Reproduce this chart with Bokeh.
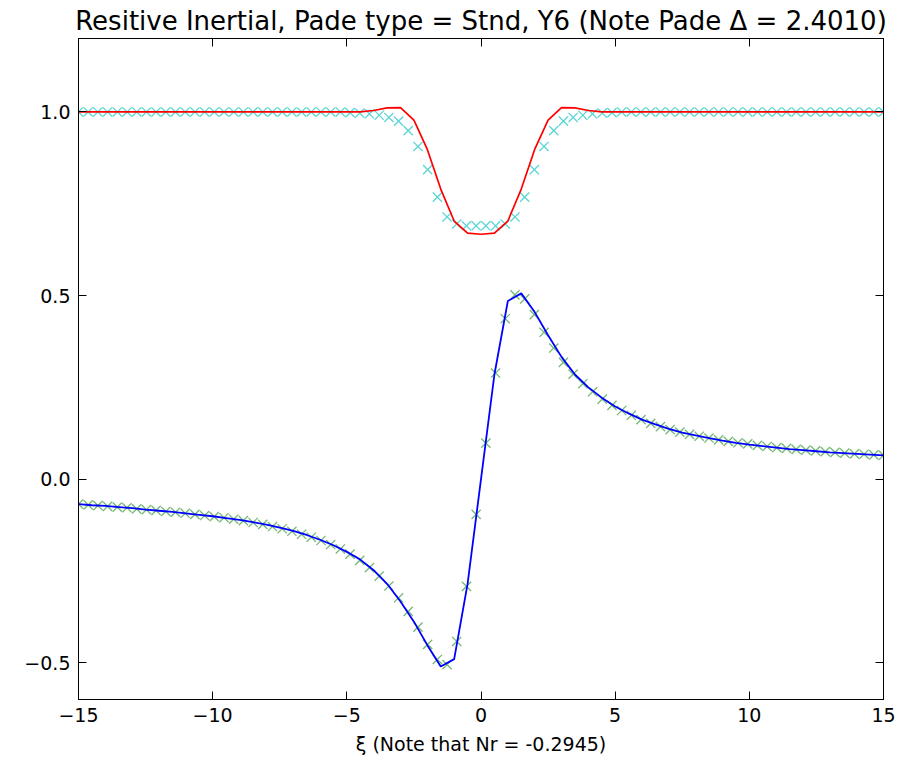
from bokeh.plotting import figure
from bokeh.models import Range1d, LinearAxis, FixedTicker, CustomJSTickFormatter
from bokeh.embed import file_html
from bokeh.resources import INLINE

TITLE = "Resitive Inertial, Pade type = Stnd, Y6 (Note Pade \u0394 = 2.4010)"
XLABEL = "\u03be (Note that Nr = -0.2945)"
X_TICKS = [-15, -10, -5, 0, 5, 10, 15]
Y_TICKS = [-0.5, 0.0, 0.5, 1.0]

# sample positions of the "x" markers
XI_MARK = [-15.0, -14.639, -14.277, -13.916, -13.554, -13.193, -12.831, -12.47, -12.108, -11.747,
           -11.386, -11.024, -10.663, -10.301, -9.94, -9.578, -9.217, -8.855, -8.494, -8.133,
           -7.771, -7.41, -7.048, -6.687, -6.325, -5.964, -5.602, -5.241, -4.88, -4.518,
           -4.157, -3.795, -3.434, -3.072, -2.711, -2.349, -1.988, -1.627, -1.265, -0.904,
           -0.542, -0.181, 0.181, 0.542, 0.904, 1.265, 1.627, 1.988, 2.349, 2.711,
           3.072, 3.434, 3.795, 4.157, 4.518, 4.88, 5.241, 5.602, 5.964, 6.325,
           6.687, 7.048, 7.41, 7.771, 8.133, 8.494, 8.855, 9.217, 9.578, 9.94,
           10.301, 10.663, 11.024, 11.386, 11.747, 12.108, 12.47, 12.831, 13.193, 13.554,
           13.916, 14.277, 14.639, 15.0]

# cyan markers (upper)
Y_UPPER_MARK = [1.0, 1.0, 1.0, 1.0, 1.0, 1.0, 1.0, 1.0, 1.0, 1.0,
                1.0, 1.0, 1.0, 1.0, 1.0, 1.0, 1.0, 1.0, 1.0, 1.0,
                1.0, 1.0, 1.0, 1.0, 1.0, 1.0, 1.0, 1.0, 0.998, 0.997,
                0.995, 0.991, 0.985, 0.975, 0.949, 0.906, 0.843, 0.768, 0.714, 0.695,
                0.690, 0.690, 0.690, 0.690, 0.695, 0.714, 0.768, 0.843, 0.906, 0.949,
                0.975, 0.985, 0.991, 0.995, 0.997, 0.998, 1.0, 1.0, 1.0, 1.0,
                1.0, 1.0, 1.0, 1.0, 1.0, 1.0, 1.0, 1.0, 1.0, 1.0,
                1.0, 1.0, 1.0, 1.0, 1.0, 1.0, 1.0, 1.0, 1.0, 1.0,
                1.0, 1.0, 1.0, 1.0]

# green markers (lower)
Y_LOWER_MARK = [-0.068, -0.070, -0.072, -0.074, -0.076, -0.078, -0.081, -0.083, -0.085, -0.088,
                -0.090, -0.093, -0.096, -0.099, -0.102, -0.105, -0.109, -0.113, -0.118, -0.123,
                -0.129, -0.135, -0.142, -0.150, -0.158, -0.167, -0.178, -0.190, -0.204, -0.221,
                -0.241, -0.264, -0.291, -0.323, -0.360, -0.403, -0.450, -0.491, -0.505, -0.442,
                -0.292, -0.096, 0.098, 0.289, 0.437, 0.502, 0.491, 0.448, 0.400, 0.357,
                0.318, 0.286, 0.260, 0.238, 0.218, 0.201, 0.187, 0.174, 0.162, 0.152,
                0.143, 0.135, 0.128, 0.122, 0.117, 0.112, 0.107, 0.103, 0.099, 0.096,
                0.092, 0.089, 0.086, 0.084, 0.081, 0.079, 0.077, 0.075, 0.073, 0.071,
                0.069, 0.068, 0.066, 0.065]

# sample positions of the lines
XI_LINE = [-15.0, -14.5, -14.0, -13.5, -13.0, -12.5, -12.0, -11.5, -11.0, -10.5,
           -10.0, -9.5, -9.0, -8.5, -8.0, -7.5, -7.0, -6.5, -6.0, -5.5,
           -5.0, -4.5, -4.0, -3.5, -3.0, -2.5, -2.0, -1.5, -1.0, -0.5,
           0.0, 0.5, 1.0, 1.5, 2.0, 2.5, 3.0, 3.5, 4.0, 4.5,
           5.0, 5.5, 6.0, 6.5, 7.0, 7.5, 8.0, 8.5, 9.0, 9.5,
           10.0, 10.5, 11.0, 11.5, 12.0, 12.5, 13.0, 13.5, 14.0, 14.5,
           15.0]

# red line (upper)
Y_UPPER_LINE = [1.0, 1.0, 1.0, 1.0, 1.0, 1.0, 1.0, 1.0, 1.0, 1.0,
                1.0, 1.0, 1.0, 1.0, 1.0, 1.0, 1.0, 1.0, 1.0, 1.0,
                1.0, 1.0, 1.004, 1.011, 1.012, 0.978, 0.898, 0.790, 0.703, 0.670,
                0.667, 0.670, 0.703, 0.790, 0.898, 0.978, 1.012, 1.011, 1.004, 1.0,
                1.0, 1.0, 1.0, 1.0, 1.0, 1.0, 1.0, 1.0, 1.0, 1.0,
                1.0, 1.0, 1.0, 1.0, 1.0, 1.0, 1.0, 1.0, 1.0, 1.0,
                1.0]

# blue line (lower)
Y_LOWER_LINE = [-0.068, -0.071, -0.073, -0.076, -0.079, -0.083, -0.086, -0.089, -0.093, -0.097,
                -0.101, -0.106, -0.111, -0.117, -0.124, -0.132, -0.141, -0.152, -0.165, -0.180,
                -0.198, -0.219, -0.248, -0.285, -0.333, -0.388, -0.452, -0.510, -0.490, -0.285,
                0.0, 0.285, 0.485, 0.506, 0.455, 0.392, 0.333, 0.285, 0.250, 0.222,
                0.198, 0.179, 0.162, 0.149, 0.137, 0.127, 0.119, 0.112, 0.105, 0.099,
                0.094, 0.090, 0.086, 0.082, 0.079, 0.076, 0.073, 0.071, 0.069, 0.067,
                0.065]

FONT = "DejaVu Sans"

p = figure(frame_width=805, frame_height=661, output_backend="svg", toolbar_location=None,
           x_range=Range1d(-15, 15), y_range=Range1d(-0.6, 1.2),
           min_border_left=78, min_border_right=14, min_border_top=0, min_border_bottom=0,
           background_fill_color="white", border_fill_color="white")
p.grid.visible = False
p.outline_line_color = "black"
p.outline_line_width = 1

p.title.text = TITLE
p.title.text_font = FONT
p.title.text_font_size = "26px"
p.title.text_font_style = "normal"
p.title.align = "center"
p.title.text_color = "black"
p.title.standoff = 6

fmt_x = CustomJSTickFormatter(code="return (tick < 0 ? '\\u2212' : '') + Math.abs(tick).toFixed(0);")
fmt_y = CustomJSTickFormatter(code="return (tick < 0 ? '\\u2212' : '') + Math.abs(tick).toFixed(1);")
fmt_blank = CustomJSTickFormatter(code="return '';")

def style_axis(ax, ticks, fmt):
    ax.ticker = FixedTicker(ticks=ticks)
    ax.formatter = fmt
    ax.major_tick_in = 8
    ax.major_tick_out = 0
    ax.minor_tick_line_color = None
    ax.axis_line_color = "black"
    ax.major_tick_line_color = "black"
    ax.major_label_text_font = FONT
    ax.major_label_text_font_size = "19px"
    ax.major_label_text_color = "black"
    ax.major_label_standoff = 8

xa = p.xaxis[0]
ya = p.yaxis[0]
style_axis(xa, X_TICKS, fmt_x)
style_axis(ya, Y_TICKS, fmt_y)
xa.axis_label = XLABEL
xa.axis_label_text_font = FONT
xa.axis_label_text_font_size = "19px"
xa.axis_label_text_font_style = "normal"
xa.axis_label_text_color = "black"
xa.axis_label_standoff = 8

top = LinearAxis()
style_axis(top, X_TICKS, fmt_blank)
top.major_label_standoff = 0
top.major_label_text_font_size = "1px"
p.add_layout(top, "above")
right = LinearAxis()
style_axis(right, Y_TICKS, fmt_blank)
right.major_label_standoff = 0
right.major_label_text_font_size = "1px"
p.add_layout(right, "right")

# markers
p.scatter(XI_MARK, Y_UPPER_MARK, marker="x", size=13, line_color="#00bfbf", line_alpha=0.65, line_width=1.3)
p.scatter(XI_MARK, Y_LOWER_MARK, marker="x", size=13, line_color="#008000", line_alpha=0.55, line_width=1.3)
# lines
p.line(XI_LINE, Y_UPPER_LINE, line_color="#ff0000", line_width=1.7)
p.line(XI_LINE, Y_LOWER_LINE, line_color="#0000ff", line_width=1.8)

open("out.html", "w").write(file_html(p, INLINE))
